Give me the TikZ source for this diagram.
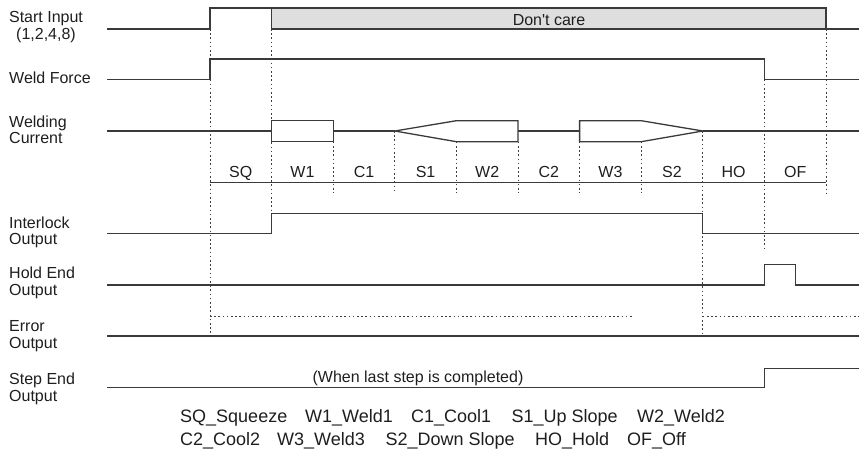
\documentclass[tikz,border=0pt]{standalone}
\usepackage{fontspec}
\setmainfont{Liberation Sans}
% same face without the TeX quote mapping, so ' stays a straight apostrophe
\newfontfamily\plainquote{Liberation Sans}
\definecolor{sigcol}{HTML}{3A3A3A}
\definecolor{guidecol}{HTML}{404040}
\definecolor{txtcol}{HTML}{1E1E1E}
\definecolor{carefill}{HTML}{DEDEDE}
\begin{document}
\begin{tikzpicture}[x=1pt,y=-1pt,
  sig/.style={draw=sigcol, line width=1.3pt, line join=miter},
  guide/.style={draw=guidecol, line width=1pt, dash pattern=on 1.6pt off 2.6pt},
  lbl/.style={font=\fontsize{16}{16.5}\selectfont, text=txtcol, inner sep=0pt, align=left, anchor=west},
  phase/.style={font=\fontsize{16}{16.5}\selectfont, text=txtcol, inner sep=0pt, anchor=base},
  legend/.style={font=\fontsize{18}{21}\selectfont, text=txtcol, inner sep=0pt, anchor=base west}]
\useasboundingbox (0,0) rectangle (859,455);

% time marks between the phases
\draw[guide] (210,29) -- (210,333);
\draw[guide] (271.6,29) -- (271.6,213.3);
\draw[guide] (333.2,141.7) -- (333.2,193);
\draw[guide] (394.8,131) -- (394.8,193);
\draw[guide] (456.4,141.7) -- (456.4,193);
\draw[guide] (518,141.7) -- (518,193);
\draw[guide] (579.6,141.7) -- (579.6,193);
\draw[guide] (641.2,141.7) -- (641.2,193);
\draw[guide] (702.8,131) -- (702.8,333);
\draw[guide] (764.4,79.5) -- (764.4,251);
\draw[guide] (826,29) -- (826,193);

% signal names
\node[lbl, align=center, anchor=center, font=\fontsize{16}{17.5}\selectfont] (lstart) at (46,27.3) {Start Input\\(1,2,4,8)};
\node[lbl, anchor=base west] (lforce) at (9,83.3) {Weld Force};
\node[lbl] (lcurrent) at (9,130) {Welding\\Current};
\node[lbl] (linter) at (9,232.5) {Interlock\\Output};
\node[lbl] (lhold) at (9,283) {Hold End\\Output};
\node[lbl] (lerror) at (9,336) {Error\\Output};
\node[lbl] (lstepend) at (9,389) {Step End\\Output};

% Start input with the don't-care span
\draw[sig] (107,29) -- (210,29) -- (210,8) -- (271.6,8);
\draw[sig, fill=carefill] (271.6,8) rectangle (826,29);
\node[phase, font=\plainquote\fontsize{16}{16.5}\selectfont] (dontcare) at (549,25) {Don't care};
\draw[sig] (826,29) -- (859,29);

% Weld force
\draw[sig] (107,79.5) -- (210,79.5) -- (210,59) -- (764.4,59) -- (764.4,79.5) -- (859,79.5);

% Welding current
\draw[sig] (107,131) -- (271.6,131);
\draw[sig] (271.6,120.7) rectangle (333.2,141.7);
\draw[sig] (333.2,131) -- (394.8,131);
\draw[sig] (394.8,131) -- (456.4,120.7) -- (518,120.7) -- (518,141.7) -- (456.4,141.7) -- cycle;
\draw[sig] (518,131) -- (579.6,131);
\draw[sig] (579.6,120.7) -- (641.2,120.7) -- (702.8,131) -- (641.2,141.7) -- (579.6,141.7) -- cycle;
\draw[sig] (702.8,131) -- (859,131);

% phase names
\draw[sig, line width=1pt] (210,182.5) -- (826,182.5);
\node[phase] (pSQ) at (240.8,177.5) {SQ};
\node[phase] (pW1) at (302.4,177.5) {W1};
\node[phase] (pC1) at (364,177.5) {C1};
\node[phase] (pS1) at (425.6,177.5) {S1};
\node[phase] (pW2) at (487.2,177.5) {W2};
\node[phase] (pC2) at (548.8,177.5) {C2};
\node[phase] (pW3) at (610.4,177.5) {W3};
\node[phase] (pS2) at (672,177.5) {S2};
\node[phase] (pHO) at (733.6,177.5) {HO};
\node[phase] (pOF) at (795.2,177.5) {OF};

% Interlock output
\draw[sig] (107,233.3) -- (271.6,233.3) -- (271.6,213.3) -- (702.8,213.3) -- (702.8,233.3) -- (859,233.3);

% Hold end output
\draw[sig] (107,285) -- (764.4,285) -- (764.4,264.5) -- (795.7,264.5) -- (795.7,285) -- (859,285);

% Error output
\draw[guide] (210,316) -- (632.5,316);
\draw[guide] (702.8,316) -- (859,316);
\draw[sig] (107,336) -- (859,336);

% Step end output
\draw[sig] (107,387.7) -- (764.4,387.7) -- (764.4,368.3) -- (859,368.3);
\node[phase] (laststep) at (418,382.3) {(When last step is completed)};

% abbreviations
\node[legend] (kSQ) at (180,422.7) {SQ\_Squeeze};
\node[legend] (kW1) at (305,422.7) {W1\_Weld1};
\node[legend] (kC1) at (411,422.7) {C1\_Cool1};
\node[legend] (kS1) at (511.5,422.7) {S1\_Up Slope};
\node[legend] (kW2) at (637,422.7) {W2\_Weld2};
\node[legend] (kC2) at (180,445.5) {C2\_Cool2};
\node[legend] (kW3) at (277,445.5) {W3\_Weld3};
\node[legend] (kS2) at (385.5,445.5) {S2\_Down Slope};
\node[legend] (kHO) at (535,445.5) {HO\_Hold};
\node[legend] (kOF) at (627,445.5) {OF\_Off};
\end{tikzpicture}
\end{document}
